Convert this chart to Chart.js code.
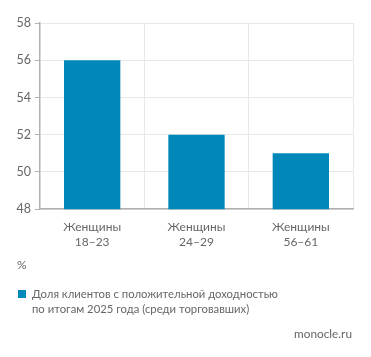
<!DOCTYPE html>
<html><head><meta charset="utf-8">
<script src="https://cdn.jsdelivr.net/npm/chart.js@4/dist/chart.umd.min.js"></script>
<style>
html,body{margin:0;padding:0;background:#fff;width:371px;height:357px;overflow:hidden;font-family:"Lato",sans-serif;color:#666}
#wrap{position:absolute;left:0;top:0;width:371px;height:260px}
.t{position:absolute;font-size:11.3px;color:#666;white-space:nowrap}
#sq{position:absolute;left:18px;top:290px;width:8px;height:8px}
</style></head><body>
<div id="wrap"><canvas id="c"></canvas></div>
<div class="t" style="left:17px;top:257px;font-size:12px">%</div>
<div id="sq"></div>
<div class="t" id="leg" style="left:32px;top:286px;line-height:15px"></div>
<div class="t" style="right:19px;top:326px;font-size:11.8px">monocle.ru</div>
<script>
const categories = [["Женщины","18–23"],["Женщины","24–29"],["Женщины","56–61"]];
const values = [56, 52, 51];
const seriesName = "Доля клиентов с положительной доходностью\nпо итогам 2025 года (среди торговавших)";
const barColor = "#0088bb";
const yMin = 48, yMax = 58, yStep = 2;

document.getElementById('sq').style.background = barColor;
document.getElementById('leg').innerHTML = seriesName.split("\n").join("<br>");

new Chart(document.getElementById('c'), {
  type: 'bar',
  data: { labels: categories, datasets: [{ label: seriesName, data: values, backgroundColor: barColor,
    categoryPercentage: 1, barPercentage: 0.54 }] },
  options: {
    responsive: true, maintainAspectRatio: false, animation: false,
    layout: { padding: { top: 23, right: 18, left: 0, bottom: 0 } },
    plugins: { legend: { display: false }, tooltip: { enabled: false } },
    scales: {
      x: {
        grid: { color: '#e8e8e8', offset: true, drawTicks: false },
        border: { color: '#b0b0b0', width: 1.5 },
        ticks: { color: '#666', font: { family: 'Lato', size: 12 }, padding: 11, maxRotation: 0 }
      },
      y: {
        min: yMin, max: yMax,
        afterFit: s => { s.width = 40; },
        grid: { color: '#e8e8e8', tickLength: 5, tickColor: '#b0b0b0' },
        border: { color: '#b0b0b0', width: 1.5 },
        ticks: { stepSize: yStep, color: '#666', font: { family: 'Lato', size: 12.5 }, padding: 4 }
      }
    }
  }
});
</script>
</body></html>
